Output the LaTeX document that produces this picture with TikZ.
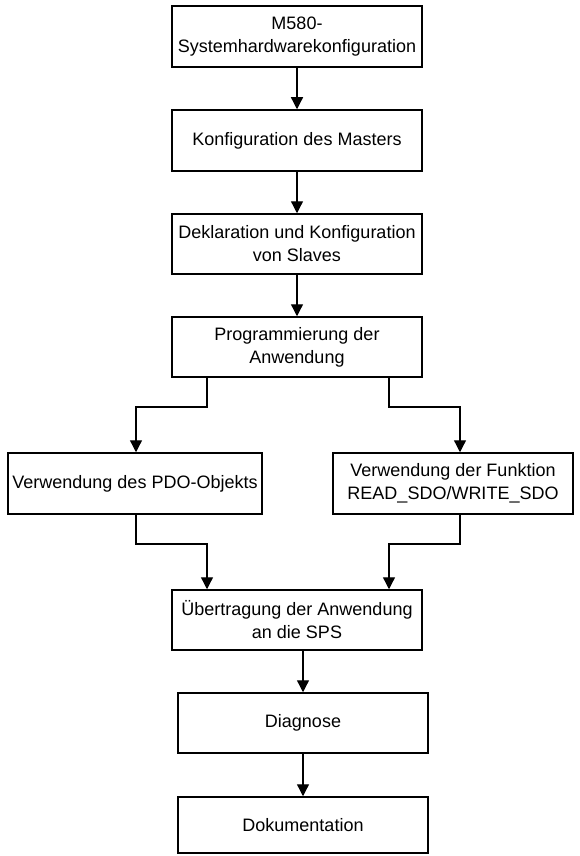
\documentclass[tikz,border=0pt]{standalone}
\usepackage{fontspec}
\setmainfont{Liberation Sans}
\usetikzlibrary{arrows.meta}
\begin{document}
\begin{tikzpicture}[x=1pt,y=-1pt,
  box/.style={draw,line width=1.5pt,align=center,inner sep=0pt,font=\fontsize{18}{23}\selectfont},
  conn/.style={line width=1.3pt,-{Triangle[length=12pt,width=12pt]}}]
\useasboundingbox (0,0) rectangle (579,856);
\node[box,minimum width=250pt,minimum height=61pt] (b1) at (297,36.5) {M580-\\Systemhardwarekonfiguration};
\node[box,minimum width=250pt,minimum height=61pt] (b2) at (297,140.5) {Konfiguration des Masters};
\node[box,minimum width=250pt,minimum height=60pt] (b3) at (297,244) {Deklaration und Konfiguration\\von Slaves};
\node[box,minimum width=250pt,minimum height=60pt] (b4) at (297,347) {Programmierung der\\Anwendung};
\node[box,minimum width=254pt,minimum height=61pt] (b5) at (135,483.5) {Verwendung des PDO-Objekts};
\node[box,minimum width=240pt,minimum height=61pt] (b6) at (453,483.5) {Verwendung der Funktion\\READ\_SDO/WRITE\_SDO};
\node[box,minimum width=250pt,minimum height=60pt] (b7) at (297,620) {Übertragung der Anwendung\\an die SPS};
\node[box,minimum width=250pt,minimum height=60pt] (b8) at (303,723) {Diagnose};
\node[box,minimum width=250pt,minimum height=56pt] (b9) at (303,825) {Dokumentation};
\coordinate (xl) at (207,0);
\coordinate (xr) at (389,0);
\coordinate (j1) at (136,407);
\coordinate (j2) at (460,407);
\coordinate (j3) at (207,544);
\coordinate (j4) at (389,544);
\draw[conn] (b1) -- (b2);
\draw[conn] (b2) -- (b3);
\draw[conn] (b3) -- (b4);
\draw[conn] (b4.south -| xl) |- (j1) -- (b5.north -| j1);
\draw[conn] (b4.south -| xr) |- (j2) -- (b6.north -| j2);
\draw[conn] (b5.south -| j1) |- (j3) -- (b7.north -| j3);
\draw[conn] (b6.south -| j2) |- (j4) -- (b7.north -| j4);
\draw[conn] (b7.south -| b8.north) -- (b8.north);
\draw[conn] (b8) -- (b9);
\end{tikzpicture}
\end{document}
